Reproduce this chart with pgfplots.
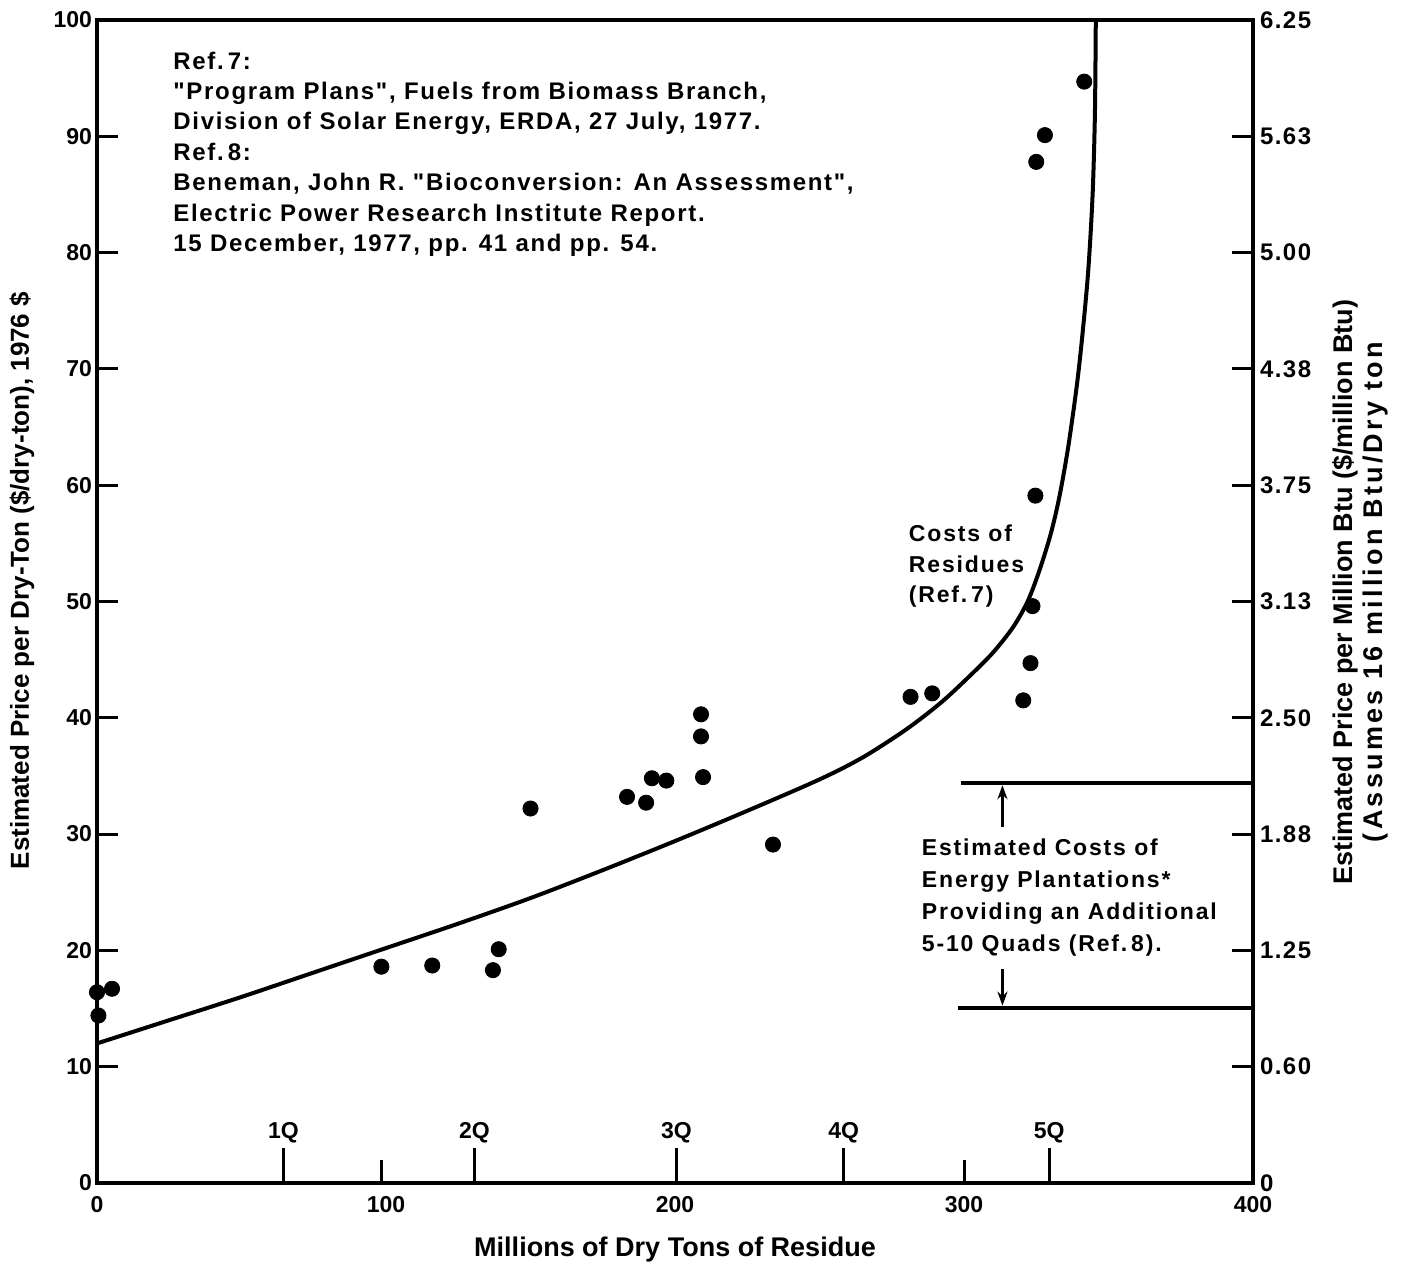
\documentclass[border=0pt]{standalone}
\usepackage{fontspec}
\setmainfont{Liberation Sans}
\newfontfamily\annfont[LetterSpace=8]{Liberation Sans}
\newfontfamily\reffont[LetterSpace=7]{Liberation Sans}
\newfontfamily\rtfont[LetterSpace=6]{Liberation Sans}
\newfontfamily\widefont[LetterSpace=12]{Liberation Sans}
\usepackage{pgfplots}
\pgfplotsset{compat=1.18}
\usetikzlibrary{arrows.meta}

\begin{document}
\begin{tikzpicture}
\begin{axis}[
    name=main,
    scale only axis,
    width=578pt, height=581.5pt,
    xmin=0, xmax=400, ymin=0, ymax=100,
    axis line style={line width=1.7pt},
    xtick={0,100,200,300,400},
    xticklabels={0,100,200,300,400},
    xtick style={draw=none},
    ytick={0,10,...,100},
    yticklabels={0,10,20,30,40,50,60,70,80,90,100},
    ytick pos=left,
    tick align=inside,
    major tick length=10.5pt,
    ytick style={line width=1.5pt, black},
    ticklabel style={font=\bfseries\fontsize{11.5}{13}\selectfont},
    yticklabel style={xshift=1pt},
    xticklabel style={yshift=-3pt},
    xlabel={Millions of Dry Tons of Residue},
    xlabel style={font=\bfseries\fontsize{13.5}{16}\selectfont,
        at={(rel axis cs:0.5,0)}, anchor=center, yshift=-33.5pt},
    ylabel={Estimated Price per Dry-Ton (\$/dry-ton), 1976 \$},
    ylabel style={font=\bfseries\fontsize{13}{15}\selectfont,
        at={(rel axis cs:0,0.518)}, anchor=center, yshift=37.5pt},
]
% cost curve for residues (Ref. 7)
\addplot[black, line width=2pt, smooth, tension=0.5] coordinates {
    (0,12.0) (25,14.0) (50,16.0) (75,18.1) (100,20.2) (125,22.3)
    (150,24.5) (175,26.9) (200,29.4) (225,32.0) (250,34.7) (265,36.6)
    (280,39.0) (292,41.3) (302,43.6) (310,45.6) (317,47.8) (322,50.0)
    (326,52.6) (330,55.8) (333,59.0) (336,63.2) (339,68.5) (341,73.0)
    (343,78.5) (344.5,85.0) (345.3,92.0) (345.6,100)
};
% observed points
\addplot[only marks, mark=*, mark size=3.8pt, black] coordinates {
    (0,16.4) (0.5,14.4) (5.2,16.7) (98.4,18.6) (116,18.7) (137,18.3)
    (139,20.1) (150,32.2) (183.4,33.2) (190,32.7) (192,34.8) (197,34.6)
    (209,40.3) (209,38.4) (209.7,34.9) (233.9,29.1) (281.5,41.8)
    (289,42.1) (320.5,41.5) (323,44.7) (323.7,49.6) (324.7,59.1)
    (325,87.8) (328,90.1) (341.6,94.7)
};
% quad markers
\foreach \q/\lab in {64.5/1Q, 130.6/2Q, 200.5/3Q, 258.4/4Q, 329.5/5Q} {
    \edef\tmp{\noexpand\draw[line width=1.5pt] (axis cs:\q,0) -- (axis cs:\q,3);
      \noexpand\node[font=\noexpand\bfseries\noexpand\fontsize{11.5}{13}\noexpand\selectfont] at (axis cs:\q,4.3) {\lab};}
    \tmp
}
\draw[line width=1.5pt] (axis cs:98.5,0) -- (axis cs:98.5,2);
\draw[line width=1.5pt] (axis cs:300,0) -- (axis cs:300,2);
% energy plantation band
\draw[line width=1.7pt] (axis cs:299,34.4) -- (axis cs:400,34.4);
\draw[line width=1.7pt] (axis cs:298,15.05) -- (axis cs:400,15.05);
\draw[line width=1.2pt, -{Stealth[length=7pt,width=5pt]}] (axis cs:313.3,30.6) -- (axis cs:313.3,34.2);
\draw[line width=1.2pt, -{Stealth[length=7pt,width=5pt]}] (axis cs:313.3,18.4) -- (axis cs:313.3,15.25);
\node[anchor=north west, inner sep=0pt, align=left,
      font=\reffont\bfseries\fontsize{12}{15.2}\selectfont] at (axis cs:26.3,97.3)
    {Ref.\,7:\\
     "Program Plans", Fuels from Biomass Branch,\\
     Division of Solar Energy, ERDA, 27 July, 1977.\\
     Ref.\,8:\\
     Beneman, John R. "Bioconversion: An Assessment",\\
     Electric Power Research Institute Report.\\
     15 December, 1977, pp. 41 and pp. 54.};
\node[anchor=north west, inner sep=0pt, align=left,
      font=\annfont\bfseries\fontsize{11.5}{15.2}\selectfont] at (axis cs:280.8,56.6)
    {Costs of\\Residues\\(Ref.\,7)};
\node[anchor=north west, inner sep=0pt, align=left,
      font=\annfont\bfseries\fontsize{11.5}{16}\selectfont] at (axis cs:285.3,29.6)
    {Estimated Costs of\\Energy Plantations*\\Providing an Additional\\5-10 Quads (Ref.\,8).};
\end{axis}
\begin{axis}[
    scale only axis,
    width=578pt, height=581.5pt,
    at={(main.south west)}, anchor=south west,
    xmin=0, xmax=400, ymin=0, ymax=100,
    axis x line=none, axis y line*=right,
    axis line style={line width=1.7pt, -},
    ytick={0,10,...,100},
    yticklabels={0,0.60,1.25,1.88,2.50,3.13,3.75,4.38,5.00,5.63,6.25},
    tick align=inside,
    major tick length=10.5pt,
    ytick style={line width=1.5pt, black},
    yticklabel style={font=\rtfont\bfseries\fontsize{12}{14}\selectfont},
    ylabel={Estimated Price per Million Btu (\$/million Btu)\\{\widefont\bfseries(Assumes 16 million Btu/Dry ton}},
    ylabel style={font=\bfseries\fontsize{13.5}{15}\selectfont, align=center,
        at={(rel axis cs:1,0.508)}, anchor=center, yshift=-53.5pt},
]
\end{axis}
\pgfresetboundingbox
\path[use as bounding box] ([shift={(-48.5pt,-41.5pt)}]main.south west)
    rectangle ([shift={(78pt,10pt)}]main.north east);
\end{tikzpicture}
\end{document}
